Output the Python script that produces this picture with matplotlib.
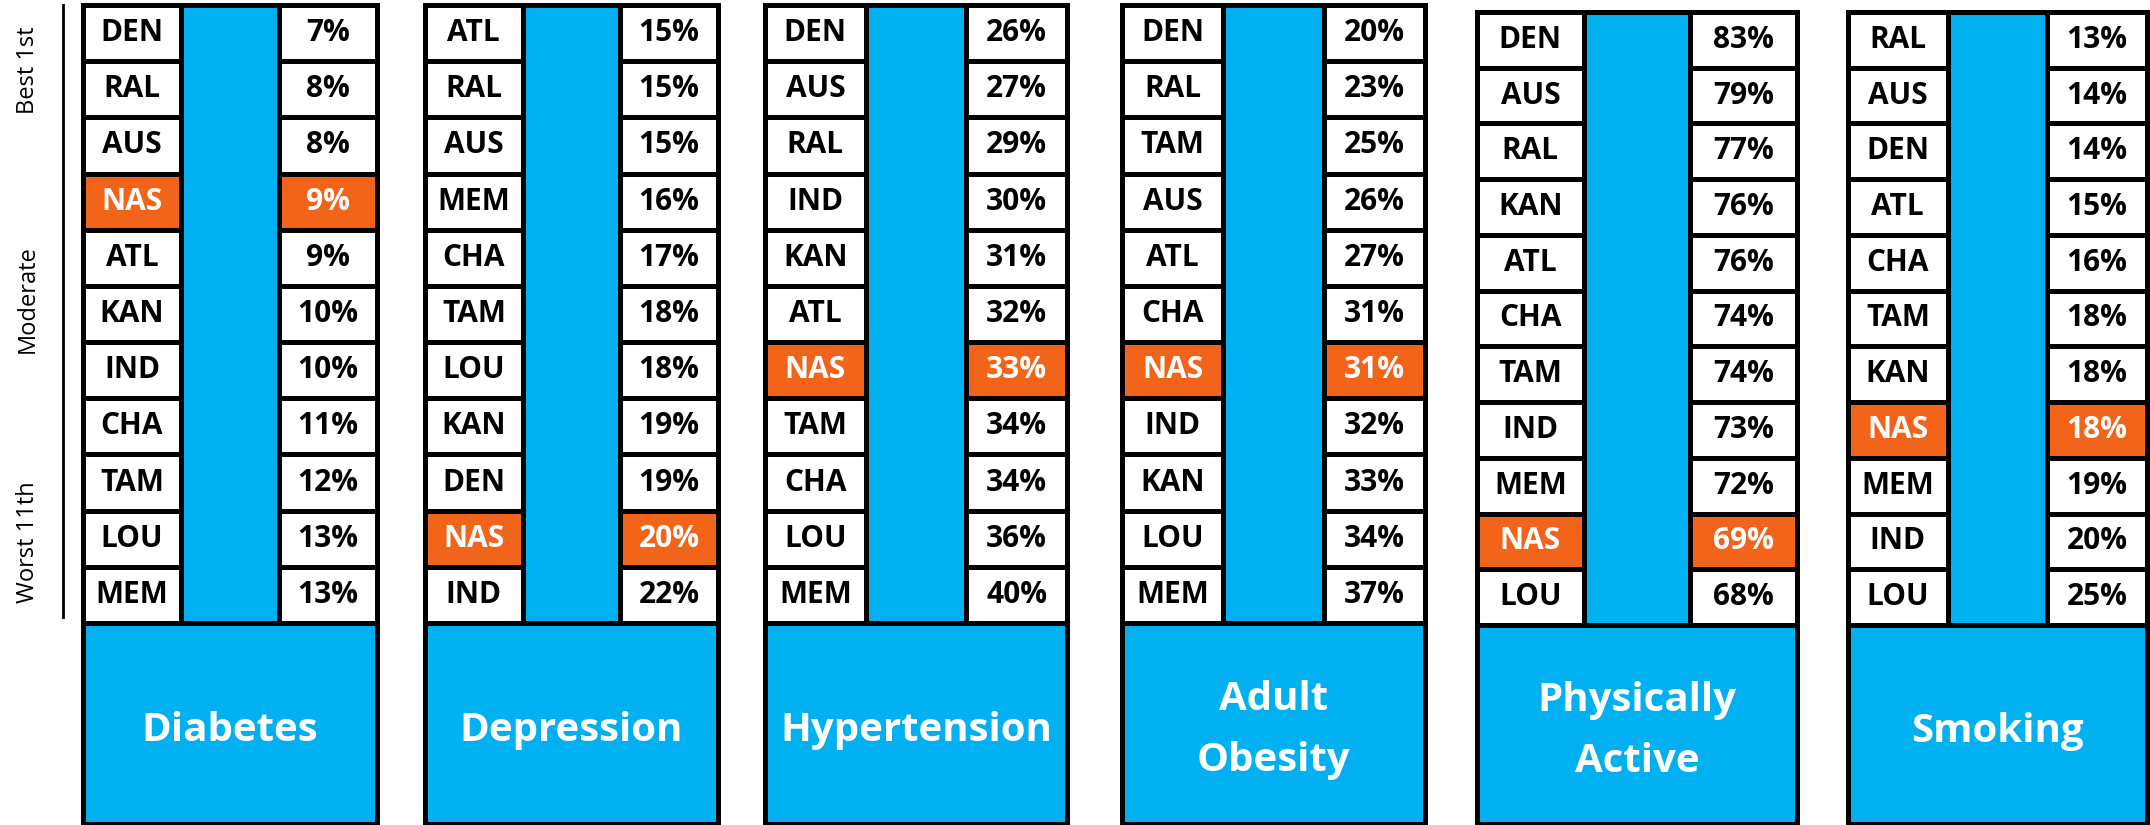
import matplotlib.pyplot as plt
from matplotlib.patches import Rectangle

plt.rcParams['font.family'] = ['Open Sans', 'DejaVu Sans']

BLUE = '#00B0F0'
ORANGE = '#F26419'
HOME = 'NAS'

# data, ranked best (top) to worst (bottom)
titles = ['Diabetes', 'Depression', 'Hypertension', 'Adult\nObesity',
          'Physically\nActive', 'Smoking']
diabetes_city = ['DEN', 'RAL', 'AUS', 'NAS', 'ATL', 'KAN', 'IND', 'CHA', 'TAM', 'LOU', 'MEM']
diabetes_pct = [7, 8, 8, 9, 9, 10, 10, 11, 12, 13, 13]
depression_city = ['ATL', 'RAL', 'AUS', 'MEM', 'CHA', 'TAM', 'LOU', 'KAN', 'DEN', 'NAS', 'IND']
depression_pct = [15, 15, 15, 16, 17, 18, 18, 19, 19, 20, 22]
hypertension_city = ['DEN', 'AUS', 'RAL', 'IND', 'KAN', 'ATL', 'NAS', 'TAM', 'CHA', 'LOU', 'MEM']
hypertension_pct = [26, 27, 29, 30, 31, 32, 33, 34, 34, 36, 40]
obesity_city = ['DEN', 'RAL', 'TAM', 'AUS', 'ATL', 'CHA', 'NAS', 'IND', 'KAN', 'LOU', 'MEM']
obesity_pct = [20, 23, 25, 26, 27, 31, 31, 32, 33, 34, 37]
active_city = ['DEN', 'AUS', 'RAL', 'KAN', 'ATL', 'CHA', 'TAM', 'IND', 'MEM', 'NAS', 'LOU']
active_pct = [83, 79, 77, 76, 76, 74, 74, 73, 72, 69, 68]
smoking_city = ['RAL', 'AUS', 'DEN', 'ATL', 'CHA', 'TAM', 'KAN', 'NAS', 'MEM', 'IND', 'LOU']
smoking_pct = [13, 14, 14, 15, 16, 18, 18, 18, 19, 20, 25]

cities = [diabetes_city, depression_city, hypertension_city, obesity_city, active_city, smoking_city]
pcts = [diabetes_pct, depression_pct, hypertension_pct, obesity_pct, active_pct, smoking_pct]

W, H = 2150, 825
fig = plt.figure(figsize=(W / 100, H / 100), dpi=100)

# panel boxes in pixels: left, right, top, bottom of rows, bottom of title box
panels = [(83, 377, 5, 623, 824), (425, 718, 5, 623, 824), (765, 1067, 5, 623, 824),
          (1122, 1425, 5, 623, 824), (1477, 1797, 12, 625, 824), (1848, 2147, 12, 625, 824)]

lw = 3.6
for (x0, x1, y0, yr, yb), title, city, pct in zip(panels, titles, cities, pcts):
    n = len(city)
    rh = (yr - y0) / n
    tb = (yb - yr) / rh
    ax = fig.add_axes([x0 / W, 1 - yb / H, (x1 - x0) / W, (yb - y0) / H])
    ax.set_xlim(0, 3)
    ax.set_ylim(n + tb, 0)
    ax.axis('off')
    for i, (c, p) in enumerate(zip(city, pct)):
        hl = c == HOME
        fc = ORANGE if hl else 'white'
        tc = 'white' if hl else 'black'
        ax.add_patch(Rectangle((0, i), 1, 1, fc=fc, ec='black', lw=lw, clip_on=False))
        ax.add_patch(Rectangle((2, i), 1, 1, fc=fc, ec='black', lw=lw, clip_on=False))
        ax.text(0.5, i + 0.5, c, ha='center', va='center', fontsize=21.5,
                fontweight='bold', color=tc)
        ax.text(2.5, i + 0.5, f'{p}%', ha='center', va='center', fontsize=21.5,
                fontweight='bold', color=tc)
    ax.add_patch(Rectangle((1, 0), 1, n, fc=BLUE, ec='black', lw=lw, clip_on=False))
    ax.add_patch(Rectangle((0, n), 3, tb, fc=BLUE, ec='black', lw=lw, clip_on=False))
    ax.text(1.5, n + tb / 2 + 0.12, title, ha='center', va='center', fontsize=29,
            fontweight='bold', color='white', linespacing=1.75)

# rank guide on the left
fig.add_artist(plt.Line2D([63 / W, 63 / W], [1 - 5 / H, 1 - 617 / H], color='black', lw=2))
for lab, yy in [('Best 1st', 70), ('Moderate', 299), ('Worst 11th', 542)]:
    fig.text(28 / W, 1 - yy / H, lab, rotation=90, ha='center', va='center', fontsize=17)

fig.savefig('out.png', dpi=100)
